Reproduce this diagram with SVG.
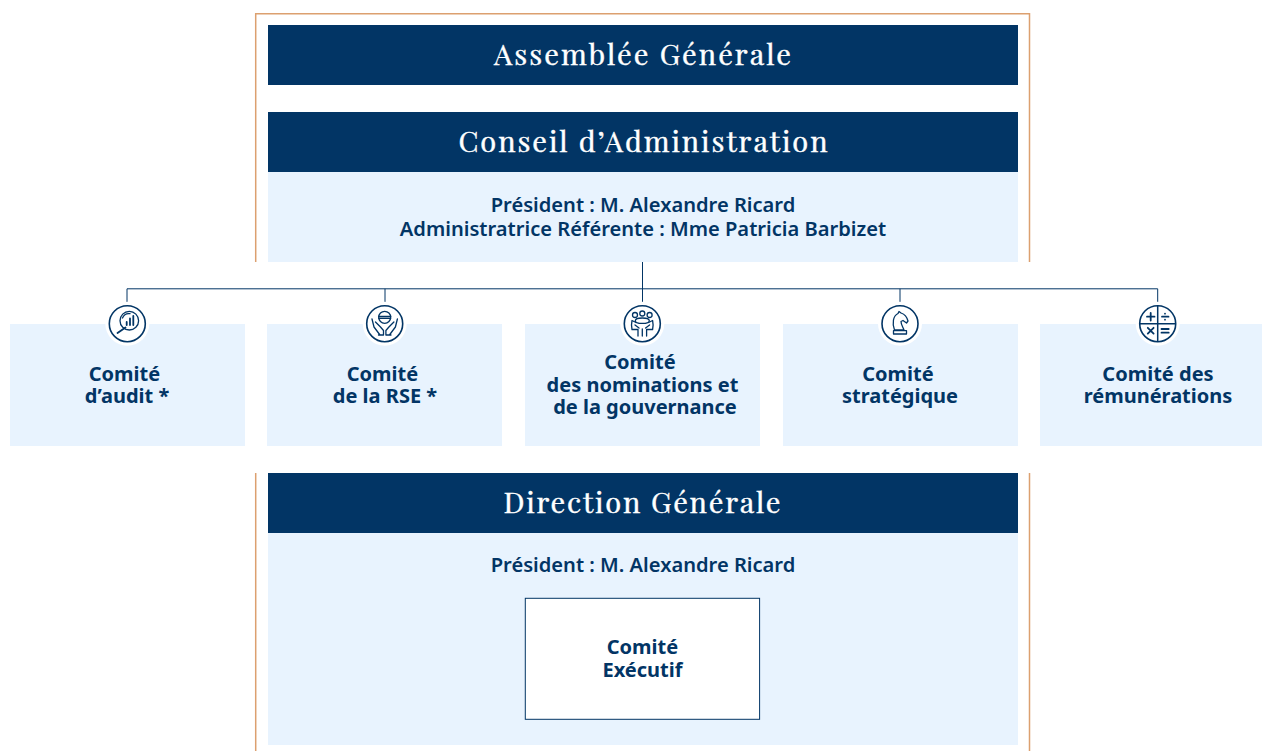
<svg xmlns="http://www.w3.org/2000/svg" width="1262" height="751" viewBox="0 0 1262 751">
<style>
.hd{fill:#023565}.lt{fill:#e8f3fe}
.h{font-family:"Playfair Display","Liberation Serif",serif;font-size:29px;font-weight:400;fill:#fff;stroke:#fff;stroke-width:.4px;text-anchor:middle}
.t{font-family:"Noto Sans","Open Sans",sans-serif;font-size:20.130px;font-weight:600;fill:#023565;text-anchor:middle}
.b{font-family:"Noto Sans","Open Sans",sans-serif;font-size:20px;font-weight:700;fill:#023565;text-anchor:middle}
.c{fill:none;stroke:#023565;stroke-width:1}
.o{fill:none;stroke:#dca06f;stroke-width:1.500}
.halo{fill:#fff}
.ic{fill:#fff;stroke:#023565;stroke-width:1.600}
.g{fill:none;stroke:#023565;stroke-width:1.300;stroke-linecap:round;stroke-linejoin:round}
.g2{fill:none;stroke:#023565;stroke-width:1.800;stroke-linecap:round}
</style>
<rect width="1262" height="751" fill="#fff"/>
<g id="outline"><path class="o" d="M255.700 262V13.700H1029.500V262M255.700 473V751M1029.500 473V751"/></g>
<g id="assemblee"><rect class="hd" x="268" y="25" width="750" height="60"/><text class="h" x="642.500" y="64.500" textLength="297">Assemblée Générale</text></g>
<g id="conseil"><rect class="hd" x="268" y="112" width="750" height="60"/><rect class="lt" x="268" y="172" width="750" height="90"/><text class="h" x="643" y="151.500" textLength="369">Conseil d’Administration</text><text class="t" x="643" y="212">Président : M. Alexandre Ricard</text><text class="t" x="643" y="236">Administratrice Référente : Mme Patricia Barbizet</text></g>
<g id="connectors"><path class="c" d="M642.500 262V302M127 302V288.800H1157.700V302M385 288.800V302M900 288.800V302"/></g>
<g id="audit"><rect class="lt" x="10" y="324" width="235" height="122"/><circle class="halo" cx="127.300" cy="323.700" r="22"/><circle class="ic" cx="127.300" cy="323.700" r="18"/><circle class="g" cx="129.300" cy="320.700" r="9.300"/><path class="g" d="M122.500 318A7 7 0 0 1 130 313.700"/><path class="g2" d="M125.500 327.500L117.500 333M126.700 325V322M130 325V318.500M133.300 325V316"/><text class="b" x="124.500" y="381">Comité</text><text class="b" x="127" y="403">d’audit *</text></g>
<g id="rse"><rect class="lt" x="267" y="324" width="235" height="122"/><circle class="halo" cx="384.700" cy="323.700" r="22"/><circle class="ic" cx="384.700" cy="323.700" r="18"/><circle class="g" cx="384.700" cy="317.300" r="6"/><path class="g" d="M378.700 316.500H390.700M378.700 318.300H390.700"/><path class="g" d="M372 319L374 327L380 335M375.500 322L380.500 327L383.500 330.500V335M397.400 319L395.400 327L389.400 335M393.900 322L388.900 327L385.900 330.500V335M378.500 335H383.500M385.900 335H391"/><text class="b" x="382.500" y="381">Comité</text><text class="b" x="385" y="403">de la RSE *</text></g>
<g id="nominations"><rect class="lt" x="525" y="324" width="235" height="122"/><circle class="halo" cx="642.300" cy="323.700" r="22"/><circle class="ic" cx="642.300" cy="323.700" r="18"/><circle class="g" cx="635" cy="315" r="2.500"/><circle class="g" cx="642.300" cy="313.500" r="2.500"/><circle class="g" cx="649.600" cy="315" r="2.500"/><ellipse class="g" cx="642.300" cy="320.700" rx="7" ry="2.700"/><path class="g" d="M636 322.500L632 320.500Q631 325 632 329.500H638V336M648.600 322.500L652.600 320.500Q653.600 325 652.600 329.500H646.600V336M642.300 329V336M635 325L639 328M649.600 325L645.600 328"/><text class="b" x="640" y="369">Comité</text><text class="b" x="642.500" y="392">des nominations et</text><text class="b" x="645" y="414">de la gouvernance</text></g>
<g id="strategique"><rect class="lt" x="783" y="324" width="235" height="122"/><circle class="halo" cx="900" cy="323.700" r="22"/><circle class="ic" cx="900" cy="323.700" r="18"/><path class="g" d="M894.500 330C892 323 893 316 898 313.500L899 311.500L901 313C904 314 907 317 908 321L906.500 323L903 320.500L901 321.500C901 324.500 903 327 904 330ZM893.500 330.700H906.500V334H893.500Z"/><text class="b" x="898" y="381">Comité</text><text class="b" x="900" y="403">stratégique</text></g>
<g id="remunerations"><rect class="lt" x="1040" y="324" width="222" height="122"/><circle class="halo" cx="1157.700" cy="323.700" r="22"/><circle class="ic" cx="1157.700" cy="323.700" r="18"/><path class="c" style="stroke-width:1.500" d="M1157.700 305.700V341.700M1139.700 323.700H1175.700"/><path class="g2" d="M1147 316.700H1154.500M1150.700 313V320.500M1162 316.700H1168.500M1147.800 327.800L1153.600 333.600M1153.600 327.800L1147.800 333.600M1161.500 329H1168.700M1161.500 332.700H1168.700"/><circle cx="1165" cy="313.700" r=".9" fill="#023565"/><circle cx="1165" cy="319.700" r=".9" fill="#023565"/><text class="b" x="1158" y="381">Comité des</text><text class="b" x="1158" y="403">rémunérations</text></g>
<g id="direction"><rect class="hd" x="268" y="473" width="750" height="60"/><rect class="lt" x="268" y="533" width="750" height="212"/><text class="h" x="642" y="512.500" textLength="277">Direction Générale</text><text class="t" x="643" y="572">Président : M. Alexandre Ricard</text></g>
<g id="comex"><rect x="525.300" y="598.300" width="234.300" height="121" fill="#fff" stroke="#023565"/><text class="b" x="642.500" y="654">Comité</text><text class="b" x="642.500" y="677">Exécutif</text></g>
</svg>
